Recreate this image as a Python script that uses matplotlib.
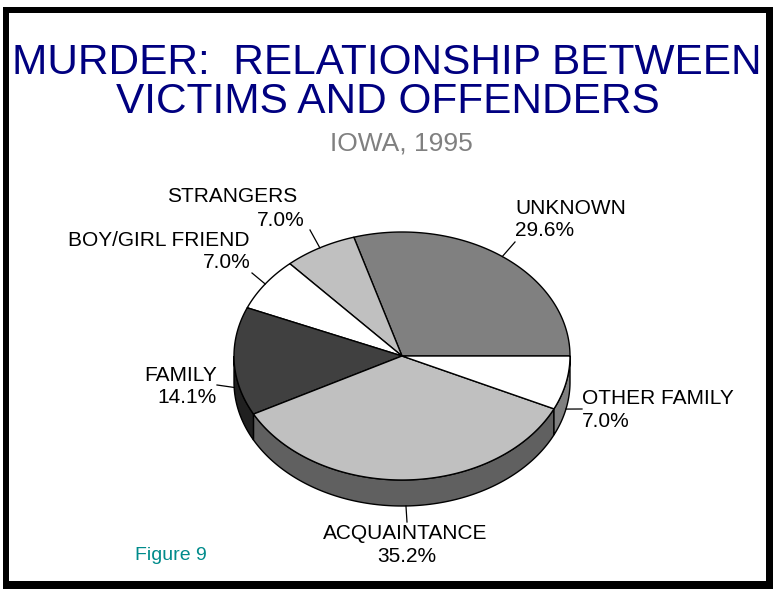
import numpy as np
import matplotlib
matplotlib.use("Agg")
import matplotlib.pyplot as plt
from matplotlib.patches import Polygon, Rectangle

# ---- data ----
categories = ["UNKNOWN", "STRANGERS", "BOY/GIRL FRIEND", "FAMILY", "ACQUAINTANCE", "OTHER FAMILY"]
percent = [29.6, 7.0, 7.0, 14.1, 35.2, 7.0]
pct_labels = ["29.6%", "7.0%", "7.0%", "14.1%", "35.2%", "7.0%"]
title_lines = ["MURDER:  RELATIONSHIP BETWEEN", "VICTIMS AND OFFENDERS"]
subtitle = "IOWA, 1995"
figure_note = "Figure 9"

# ---- styles / layout ----
top_colors = ["#808080", "#C0C0C0", "#FFFFFF", "#404040", "#C0C0C0", "#FFFFFF"]
side_colors = ["#606060", "#909090", "#C0C0C0", "#202020", "#606060", "#808080"]

W, H = 773, 589
cx, cy, rx, ry, depth_px = 402, 356, 168, 124, 26
FONT = "Liberation Sans"

# label layout in pixels: (name_x, name_baseline, pct_x, pct_baseline, ha, leader_end)
label_layout = {
    "UNKNOWN": (515, 214, 515, 236, "left", (515, 242)),
    "STRANGERS": (297, 202, 305, 226, "right", (310, 230)),
    "BOY/GIRL FRIEND": (250, 246, 251, 268, "right", (252, 273)),
    "FAMILY": (217, 381, 217, 403, "right", (217, 385)),
    "ACQUAINTANCE": (405, 539, 407, 562, "center", (407, 522)),
    "OTHER FAMILY": (582, 404, 582, 427, "left", (582, 409)),
}

fig = plt.figure(figsize=(W / 100, H / 100), dpi=100)
fig.patch.set_facecolor("white")

def fx(px):
    return px / W

def fy(py):
    return 1 - py / H

# frame with shadow
fig.patches.append(Rectangle((fx(3), fy(589)), fx(773) - fx(3), fy(7) - fy(589),
                             transform=fig.transFigure, facecolor="black",
                             edgecolor="none", zorder=-2))
fig.patches.append(Rectangle((fx(9), fy(581)), fx(766) - fx(9), fy(13) - fy(581),
                             transform=fig.transFigure, facecolor="white",
                             edgecolor="none", zorder=-1))

# pie axes: unit ellipse coordinates
xl = 1.3
yl_top, yl_bot = 1.3, 1.5
ax = fig.add_axes([fx(cx - xl * rx), fy(cy + yl_bot * ry),
                   (2 * xl * rx) / W, ((yl_top + yl_bot) * ry) / H])
ax.set_zorder(2)
ax.set_xlim(-xl, xl)
ax.set_ylim(-yl_bot, yl_top)
ax.set_axis_off()
ax.patch.set_alpha(0)

d = depth_px / ry
vals = np.array(percent, dtype=float)
fr = vals / vals.sum() * 360.0
starts = np.concatenate([[0.0], np.cumsum(fr)[:-1]])
ends = starts + fr

# sides (front half visible: 180..360 deg)
for a1, a2, c in zip(starts, ends, side_colors):
    s1, s2 = max(a1, 180.0), min(a2, 360.0)
    if s2 <= s1:
        continue
    t = np.radians(np.linspace(s1, s2, 120))
    top = np.column_stack([np.cos(t), np.sin(t)])
    bot = np.column_stack([np.cos(t), np.sin(t) - d])[::-1]
    ax.add_patch(Polygon(np.vstack([top, bot]), closed=True, facecolor=c,
                         edgecolor="black", linewidth=1.0, zorder=1))

# top faces
for a1, a2, c in zip(starts, ends, top_colors):
    t = np.radians(np.linspace(a1, a2, 200))
    pts = np.vstack([[0, 0], np.column_stack([np.cos(t), np.sin(t)])])
    ax.add_patch(Polygon(pts, closed=True, facecolor=c, edgecolor="black",
                         linewidth=1.0, zorder=2, joinstyle="round"))

# labels and leaders
for name, pl, a1, a2 in zip(categories, pct_labels, starts, ends):
    nx, nb, px_, pb, ha, lend = label_layout[name]
    mid = np.radians((a1 + a2) / 2)
    sx = cx + rx * np.cos(mid)
    sy = cy - ry * np.sin(mid) + (depth_px if np.sin(mid) < 0 else 0)
    ln = plt.Line2D([fx(sx), fx(lend[0])], [fy(sy), fy(lend[1])],
                    transform=fig.transFigure, color="black", linewidth=0.9)
    ln.set_zorder(3)
    fig.add_artist(ln)
    fig.text(fx(nx), fy(nb), name, ha=ha, va="baseline", fontsize=15,
             family=FONT, color="black", zorder=4)
    fig.text(fx(px_), fy(pb), pl, ha=ha, va="baseline", fontsize=15,
             family=FONT, color="black", zorder=4)

# titles
fig.text(fx(387), fy(74), title_lines[0], ha="center", va="baseline",
         fontsize=30.5, family=FONT, color="#000080", zorder=4)
fig.text(fx(388), fy(113), title_lines[1], ha="center", va="baseline",
         fontsize=30.5, family=FONT, color="#000080", zorder=4)
fig.text(fx(401), fy(150), subtitle, ha="center", va="baseline",
         fontsize=19, family=FONT, color="#808080", zorder=4)
fig.text(fx(135), fy(560), figure_note, ha="left", va="baseline",
         fontsize=14, family=FONT, color="#008B8B", zorder=4)

fig.savefig("out.png", dpi=100, facecolor="white")
